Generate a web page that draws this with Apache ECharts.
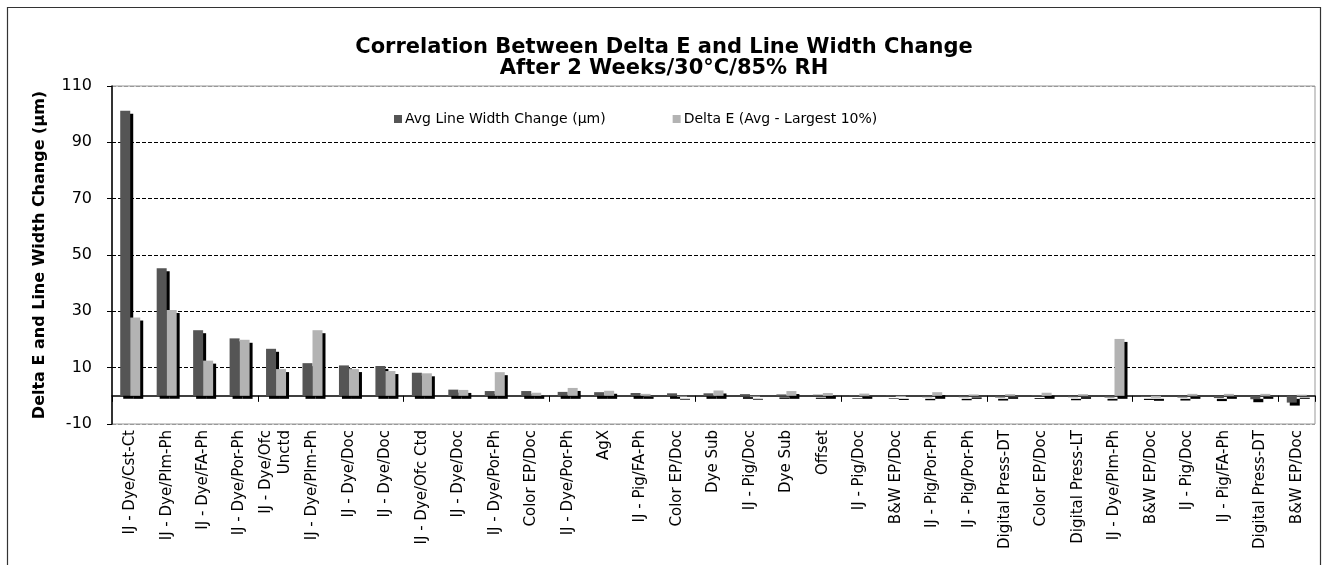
<!DOCTYPE html>
<html>
<head>
<meta charset="utf-8">
<script src="https://cdn.jsdelivr.net/npm/echarts@6/dist/echarts.min.js"></script>
<style>
html,body{margin:0;padding:0;background:#fff;}
#chart{width:1328px;height:565px;}
</style>
</head>
<body>
<div id="chart"></div>
<script>
var categories = [
  'IJ - Dye/Cst-Ct','IJ - Dye/Plm-Ph','IJ - Dye/FA-Ph','IJ - Dye/Por-Ph','IJ - Dye/Ofc\nUnctd',
  'IJ - Dye/Plm-Ph','IJ - Dye/Doc','IJ - Dye/Doc','IJ - Dye/Ofc Ctd','IJ - Dye/Doc',
  'IJ - Dye/Por-Ph','Color EP/Doc','IJ - Dye/Por-Ph','AgX','IJ - Pig/FA-Ph',
  'Color EP/Doc','Dye Sub','IJ - Pig/Doc','Dye Sub','Offset',
  'IJ - Pig/Doc','B&W EP/Doc','IJ - Pig/Por-Ph','IJ - Pig/Por-Ph','Digital Press-DT',
  'Color EP/Doc','Digital Press-LT','IJ - Dye/Plm-Ph','B&W EP/Doc','IJ - Pig/Doc',
  'IJ - Pig/FA-Ph','Digital Press-DT','B&W EP/Doc'
];
var lineWidthChange = [
  101.2, 45.3, 23.3, 20.4, 16.7,
  11.6, 10.8, 10.6, 8.2, 2.2,
  1.7, 1.7, 1.4, 1.3, 1.0,
  0.9, 0.9, 0.6, 0.5, 0.4,
  0.2, 0.2, -0.5, -0.5, -0.6,
  0.3, -0.5, -0.6, -0.4, -0.6,
  -0.8, -1.2, -2.4
];
var deltaE = [
  27.8, 30.5, 12.5, 19.9, 9.5,
  23.3, 9.5, 8.8, 8.0, 2.1,
  8.4, 1.1, 2.8, 1.8, 0.7,
  -0.3, 1.9, -0.3, 1.7, 1.0,
  0.8, -0.4, 1.3, 0.5, 0.6,
  1.1, 0.6, 20.2, -0.7, 0.7,
  0.7, 0.7, 0.4
];
var seriesNames = ['Avg Line Width Change (\u00b5m)', 'Delta E (Avg - Largest 10%)'];
var titleLines = ['Correlation Between Delta E and Line Width Change', 'After 2 Weeks/30\u00b0C/85% RH'];
var yAxisName = 'Delta E and Line Width Change (\u00b5m)';

var FONT = 'DejaVu Sans';
var chart = echarts.init(document.getElementById('chart'), null, {renderer: 'canvas'});
var barStyle = function (color) {
  return {
    color: color,
    shadowColor: '#000',
    shadowOffsetX: 3,
    shadowOffsetY: 3,
    shadowBlur: 0
  };
};
chart.setOption({
  animation: false,
  backgroundColor: '#fff',
  title: {
    text: titleLines.join('\n'),
    left: 'center',
    top: 32,
    textStyle: {fontFamily: FONT, fontWeight: 'bold', fontSize: 21, lineHeight: 21, color: '#000'}
  },
  legend: {
    left: 389,
    top: 107,
    itemWidth: 8,
    itemHeight: 8,
    itemGap: 67,
    icon: 'rect',
    textStyle: {fontFamily: FONT, fontSize: 14, color: '#000', padding: [0, 0, 0, -2]},
    data: seriesNames
  },
  graphic: [{
    type: 'rect',
    shape: {x: 7.5, y: 7.5, width: 1313, height: 620},
    style: {fill: 'none', stroke: '#333', lineWidth: 1.2},
    silent: true,
    z: 100
  }],
  grid: {
    left: 112, right: 13, top: 86, bottom: 141,
    show: true, borderColor: '#999', borderWidth: 1, backgroundColor: 'transparent'
  },
  xAxis: [{
    type: 'category',
    data: categories,
    axisLine: {onZero: true, lineStyle: {color: '#000', width: 1.5}},
    axisTick: {show: true, length: 6, lineStyle: {color: '#000', width: 1}},
    axisLabel: {show: false},
    splitLine: {show: false}
  }, {
    type: 'category',
    data: categories,
    position: 'bottom',
    axisLine: {show: false, onZero: false},
    axisTick: {show: false},
    axisLabel: {
      show: true, rotate: 90, interval: 0, margin: 6,
      fontFamily: FONT, fontSize: 15, color: '#000', lineHeight: 19
    }
  }],
  yAxis: {
    type: 'value',
    min: -10, max: 110, interval: 20,
    name: yAxisName,
    nameLocation: 'middle',
    nameGap: 64,
    nameTextStyle: {fontFamily: FONT, fontWeight: 'bold', fontSize: 16, color: '#000'},
    axisLine: {show: true, lineStyle: {color: '#000', width: 1.5}},
    axisTick: {show: true, length: 5, lineStyle: {color: '#000'}},
    axisLabel: {fontFamily: FONT, fontSize: 16, color: '#000', margin: 20},
    splitLine: {show: true, lineStyle: {color: ['#999', '#000', '#000', '#000', '#000', '#000', '#999'], type: [4, 2], width: 1}}
  },
  series: [{
    name: seriesNames[0],
    type: 'bar',
    data: lineWidthChange,
    barWidth: 10,
    barGap: '0%',
    itemStyle: barStyle('#555555')
  }, {
    name: seriesNames[1],
    type: 'bar',
    data: deltaE,
    barWidth: 10,
    barGap: '0%',
    itemStyle: barStyle('#b3b3b3')
  }]
});
</script>
</body>
</html>
